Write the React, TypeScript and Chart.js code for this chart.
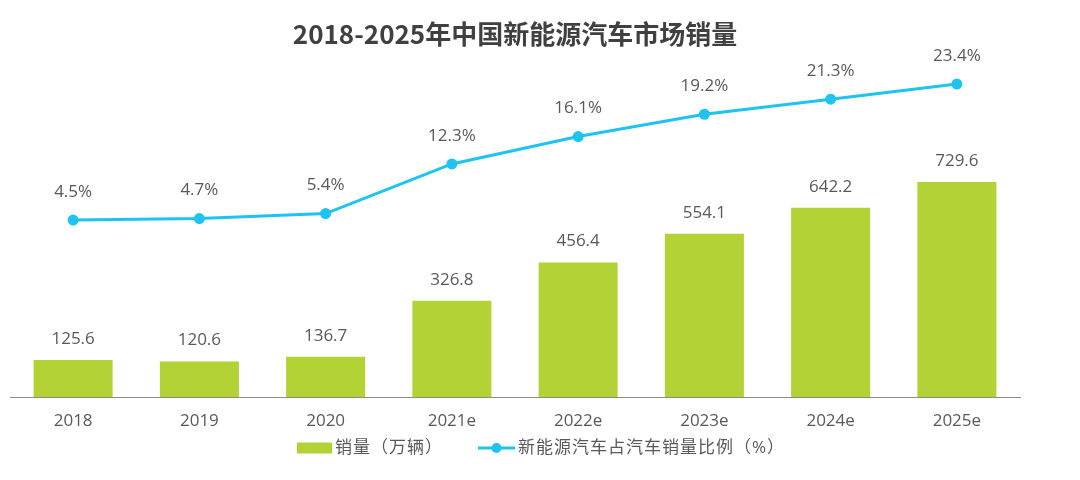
import React, { useEffect, useRef } from "react";
import { Chart, registerables } from "chart.js";

Chart.register(...registerables);

const categories = ["2018", "2019", "2020", "2021e", "2022e", "2023e", "2024e", "2025e"];
const salesValues = [125.6, 120.6, 136.7, 326.8, 456.4, 554.1, 642.2, 729.6];
const shareValues = [4.5, 4.7, 5.4, 12.3, 16.1, 19.2, 21.3, 23.4];

const titleText = "2018-2025年中国新能源汽车市场销量";
const salesLabel = "销量（万辆）";
const shareLabel = "新能源汽车占汽车销量比例（%）";

const BAR_COLOR = "#b2d235";
const LINE_COLOR = "#1ec3ef";
const TEXT_COLOR = "#595959";
const FONT = '"Open Sans", "Noto Sans CJK SC", sans-serif';

const decorPlugin = {
  id: "decor",
  afterDatasetsDraw(chart: any) {
    const ctx = chart.ctx;
    const area = chart.chartArea;
    ctx.save();
    // data labels
    ctx.fillStyle = TEXT_COLOR;
    ctx.font = `17px ${FONT}`;
    ctx.textAlign = "center";
    ctx.textBaseline = "middle";
    const barMeta = chart.getDatasetMeta(1);
    barMeta.data.forEach((el: any, i: number) => {
      ctx.fillText(salesValues[i].toFixed(1), el.x, el.y - 21);
    });
    const lineMeta = chart.getDatasetMeta(0);
    lineMeta.data.forEach((el: any, i: number) => {
      ctx.fillText(shareValues[i].toFixed(1) + "%", el.x, el.y - 28);
    });

    // title
    ctx.fillStyle = "#404040";
    ctx.font = `bold 26px "Noto Sans CJK SC", "Open Sans", sans-serif`;
    ctx.fillText(titleText, (area.left + area.right) / 2, 34);

    // legend
    ctx.font = `17px ${FONT}`;
    ctx.textAlign = "left";
    const y = 448;
    ctx.fillStyle = BAR_COLOR;
    ctx.fillRect(297, y - 5.5, 35, 11);
    ctx.fillStyle = TEXT_COLOR;
    (ctx as any).letterSpacing = "1px";
    ctx.fillText(salesLabel, 335, y);
    ctx.strokeStyle = LINE_COLOR;
    ctx.lineWidth = 3;
    ctx.beginPath();
    ctx.moveTo(478, y);
    ctx.lineTo(515, y);
    ctx.stroke();
    ctx.fillStyle = LINE_COLOR;
    ctx.beginPath();
    ctx.arc(496.5, y, 5, 0, Math.PI * 2);
    ctx.fill();
    ctx.fillStyle = TEXT_COLOR;
    ctx.fillText(shareLabel, 518, y);
    ctx.restore();
  },
};

const bgPlugin = {
  id: "bg",
  beforeDraw(chart: any) {
    const ctx = chart.ctx;
    ctx.save();
    ctx.fillStyle = "#ffffff";
    ctx.fillRect(0, 0, chart.width, chart.height);
    ctx.restore();
  },
};

export default function App() {
  const ref = useRef<HTMLCanvasElement | null>(null);
  useEffect(() => {
    document.body.style.margin = "0";
    if (!ref.current) return;
    const chart = new Chart(ref.current, {
      type: "bar",
      data: {
        labels: categories,
        datasets: [
          {
            type: "line",
            label: shareLabel,
            data: shareValues,
            yAxisID: "y1",
            borderColor: LINE_COLOR,
            backgroundColor: LINE_COLOR,
            borderWidth: 3,
            pointRadius: 5.5,
            pointBackgroundColor: LINE_COLOR,
            pointBorderWidth: 0,
            tension: 0,
            order: 0,
          } as any,
          {
            type: "bar",
            label: salesLabel,
            data: salesValues,
            yAxisID: "y",
            backgroundColor: BAR_COLOR,
            barPercentage: 0.626,
            categoryPercentage: 1,
            order: 1,
          },
        ],
      },
      options: {
        responsive: false,
        animation: false,
        layout: { padding: { left: 10, right: 60, top: 60, bottom: 0 } },
        plugins: {
          legend: { display: false },
          title: { display: false },
          tooltip: { enabled: false },
        },
        scales: {
          x: {
            grid: { display: false, drawTicks: false },
            border: { display: true, color: "#8c8c8c", width: 1 },
            ticks: {
              color: TEXT_COLOR,
              font: { size: 17, family: FONT },
              padding: 14,
              maxRotation: 0,
            },
            afterFit: (scale: any) => {
              scale.height = 83;
            },
          },
          y: {
            display: false,
            min: 0,
            max: 1144,
          },
          y1: {
            display: false,
            min: -20.09,
            max: 26.74,
          },
        },
      },
      plugins: [bgPlugin, decorPlugin],
    });
    return () => chart.destroy();
  }, []);
  return (
    <div style={{ position: "absolute", left: 0, top: 0, width: 1080, height: 480 }}>
      <canvas ref={ref} width={1080} height={480} />
    </div>
  );
}
